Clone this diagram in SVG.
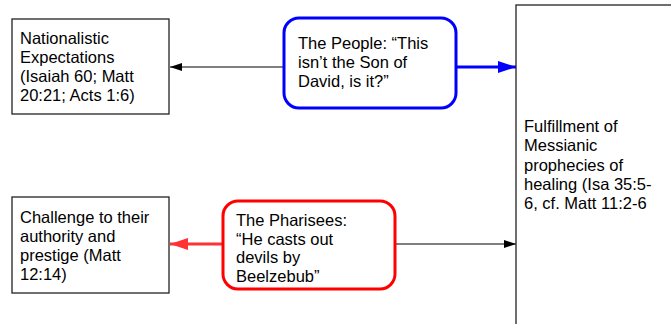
<svg xmlns="http://www.w3.org/2000/svg" width="671" height="324" viewBox="0 0 671 324">
  <defs>
    <style>
      text { font-family: "Liberation Sans", Arial, sans-serif; font-size: 16.5px; fill: #000; }
      .box { fill: #fff; stroke: #222; stroke-width: 1.3; }
      .blue { fill: #fff; stroke: #0000ff; stroke-width: 3; }
      .red { fill: #fff; stroke: #ff0000; stroke-width: 3; }
      .thin { fill: none; stroke: #000; stroke-width: 1; }
      .bline { fill: none; stroke: #0000ff; stroke-width: 3; }
      .rline { fill: none; stroke: #ff3333; stroke-width: 3; }
    </style>
    <marker id="arrBlack" viewBox="0 0 12 8" refX="12" refY="4" markerWidth="12" markerHeight="8" markerUnits="userSpaceOnUse" orient="auto">
      <path d="M0,0 L12,4 L0,8 Z" fill="#000"/>
    </marker>
    <marker id="arrBlue" viewBox="0 0 18 12" refX="18" refY="6" markerWidth="18" markerHeight="12" markerUnits="userSpaceOnUse" orient="auto">
      <path d="M0,0 L18,6 L0,12 Z" fill="#0000ff"/>
    </marker>
    <marker id="arrRed" viewBox="0 0 18 12" refX="18" refY="6" markerWidth="18" markerHeight="12" markerUnits="userSpaceOnUse" orient="auto">
      <path d="M0,0 L18,6 L0,12 Z" fill="#ff3333"/>
    </marker>
  </defs>
  <rect width="671" height="324" fill="#fff"/>

  <g id="connectors">
    <line class="thin" x1="284" y1="67" x2="170" y2="67" marker-end="url(#arrBlack)"/>
    <line class="bline" x1="456" y1="67" x2="516" y2="67" marker-end="url(#arrBlue)"/>
    <line class="rline" x1="223" y1="244" x2="170" y2="244" marker-end="url(#arrRed)"/>
    <line class="thin" x1="395" y1="244" x2="516" y2="244" marker-end="url(#arrBlack)"/>
  </g>

  <g id="nationalistic">
    <rect class="box" x="12" y="19" width="157" height="95"/>
    <text x="20" y="44">Nationalistic</text>
    <text x="20" y="63">Expectations</text>
    <text x="20" y="82">(Isaiah 60; Matt</text>
    <text x="20" y="101">20:21; Acts 1:6)</text>
  </g>

  <g id="people">
    <rect class="blue" x="284" y="18" width="172" height="90" rx="15"/>
    <text x="298" y="49">The People: “This</text>
    <text x="298" y="68">isn’t the Son of</text>
    <text x="298" y="87">David, is it?”</text>
  </g>

  <g id="fulfillment">
    <rect class="box" x="516" y="5" width="200" height="340"/>
    <text x="524" y="132">Fulfillment of</text>
    <text x="524" y="151">Messianic</text>
    <text x="524" y="171">prophecies of</text>
    <text x="524" y="190">healing (Isa 35:5-</text>
    <text x="524" y="209">6, cf. Matt 11:2-6</text>
  </g>

  <g id="challenge">
    <rect class="box" x="12" y="197" width="157" height="96"/>
    <text x="20" y="223">Challenge to their</text>
    <text x="20" y="242">authority and</text>
    <text x="20" y="261">prestige (Matt</text>
    <text x="20" y="280">12:14)</text>
  </g>

  <g id="pharisees">
    <rect class="red" x="223" y="201" width="172" height="88" rx="15"/>
    <text x="236" y="226">The Pharisees:</text>
    <text x="236" y="245">“He casts out</text>
    <text x="236" y="263">devils by</text>
    <text x="236" y="282">Beelzebub”</text>
  </g>
</svg>
